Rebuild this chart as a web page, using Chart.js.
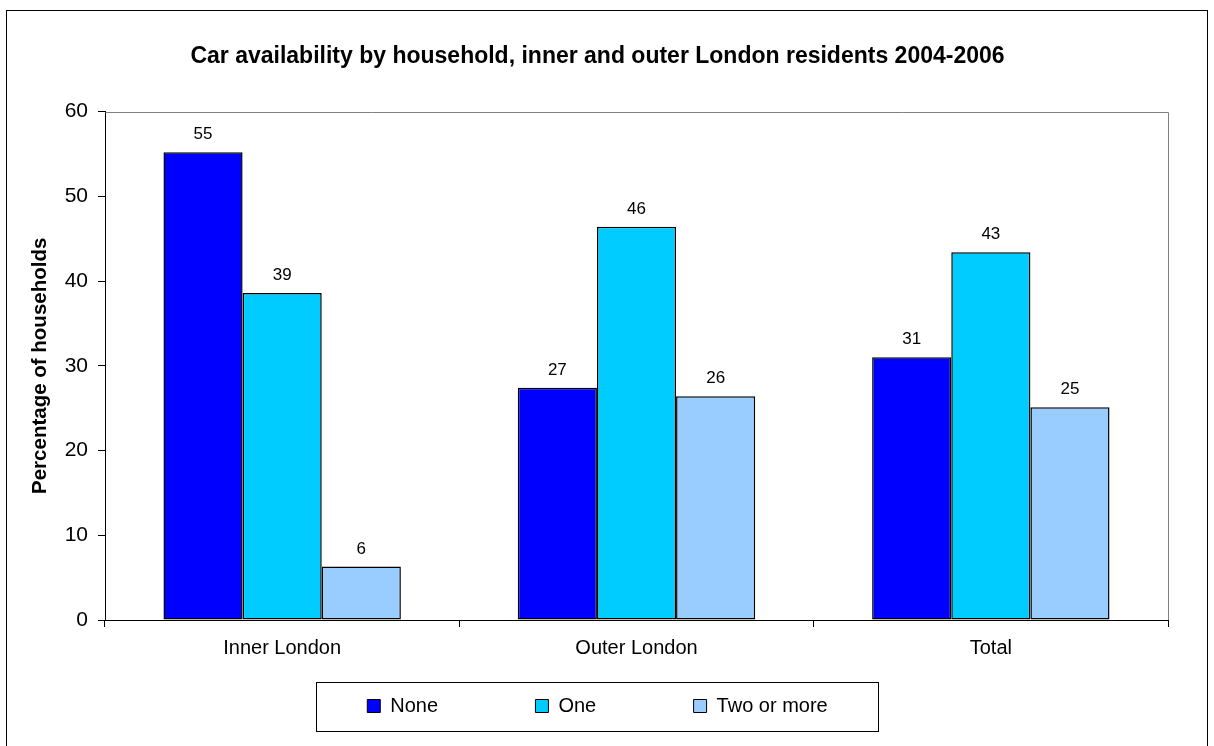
<!DOCTYPE html>
<html>
<head>
<meta charset="utf-8">
<script src="https://cdn.jsdelivr.net/npm/chart.js@4/dist/chart.umd.min.js"></script>
<style>
  html, body { margin: 0; padding: 0; background: #ffffff; }
  #wrap { position: relative; width: 1214px; height: 746px; }
</style>
</head>
<body>
<div id="wrap"><canvas id="c" width="1214" height="746"></canvas></div>
<script>
const categories = ['Inner London', 'Outer London', 'Total'];
const seriesNames = ['None', 'One', 'Two or more'];
const noneValues = [55.2, 27.4, 31.0];
const oneValues = [38.6, 46.4, 43.4];
const twoOrMoreValues = [6.3, 26.4, 25.1];
const yTicks = [0, 10, 20, 30, 40, 50, 60];
const chartTitle = 'Car availability by household, inner and outer London residents 2004-2006';
const yTitle = 'Percentage of households';

const FONT = '"Liberation Sans", Arial, sans-serif';
const PAD_LEFT = 27;

const framePlugin = {
  id: 'frame',
  beforeDraw(chart) {
    const ctx = chart.ctx;
    ctx.save();
    ctx.fillStyle = '#ffffff';
    ctx.fillRect(0, 0, chart.width, chart.height);
    ctx.strokeStyle = '#000000';
    ctx.lineWidth = 1;
    ctx.strokeRect(6.5, 10.5, 1201, 800);
    ctx.restore();
  },
  afterDraw(chart) {
    const ctx = chart.ctx;
    const a = chart.chartArea;
    ctx.save();
    ctx.strokeStyle = '#808080';
    ctx.lineWidth = 1;
    ctx.beginPath();
    ctx.moveTo(Math.round(a.left) + 0.5, Math.round(a.top) + 0.5);
    ctx.lineTo(Math.round(a.right) + 0.5, Math.round(a.top) + 0.5);
    ctx.lineTo(Math.round(a.right) + 0.5, Math.round(a.bottom));
    ctx.stroke();
    ctx.strokeStyle = '#000000';
    ctx.strokeRect(316.5, 682.5, 562, 49);
    ctx.fillStyle = '#000000';
    ctx.font = '17px ' + FONT;
    ctx.textAlign = 'center';
    ctx.textBaseline = 'alphabetic';
    chart.data.datasets.forEach((ds, di) => {
      const meta = chart.getDatasetMeta(di);
      meta.data.forEach((bar, i) => {
        ctx.fillText(String(Math.round(ds.data[i])), bar.x, bar.y - 13);
      });
    });
    ctx.restore();
  }
};

const colors = ['#0000FF', '#00CCFF', '#99CCFF'];
const seriesData = [noneValues, oneValues, twoOrMoreValues];

new Chart(document.getElementById('c'), {
  type: 'bar',
  data: {
    labels: categories,
    datasets: seriesNames.map((name, i) => ({
      label: name,
      data: seriesData[i],
      backgroundColor: colors[i],
      borderColor: '#000000',
      borderWidth: 1.5,
      borderSkipped: false,
      categoryPercentage: 0.67,
      barPercentage: 1.0
    }))
  },
  options: {
    responsive: false,
    animation: false,
    devicePixelRatio: 1,
    layout: { padding: { left: PAD_LEFT, right: 46, top: 10, bottom: 20 } },
    plugins: {
      title: {
        display: true,
        text: chartTitle,
        color: '#000000',
        font: { family: FONT, size: 23, weight: 'bold' },
        padding: { top: 33, bottom: 41 }
      },
      legend: {
        position: 'bottom',
        labels: {
          color: '#000000',
          font: { family: FONT, size: 20 },
          boxWidth: 13,
          boxHeight: 13,
          padding: 14,
          generateLabels(chart) {
            return chart.data.datasets.map((ds, i) => ({
              text: ds.label + (i < chart.data.datasets.length - 1 ? ' '.repeat(15) : ''),
              fillStyle: ds.backgroundColor,
              strokeStyle: '#000000',
              lineWidth: 1,
              hidden: false,
              datasetIndex: i,
              fontColor: '#000000'
            }));
          }
        }
      },
      tooltip: { enabled: false }
    },
    scales: {
      x: {
        offset: true,
        grid: { display: true, drawOnChartArea: false, drawTicks: true, tickLength: 7, color: '#000000' },
        border: { display: true, color: '#000000', width: 1 },
        ticks: { color: '#000000', font: { family: FONT, size: 20 }, padding: 9, maxRotation: 0 },
        afterFit(scale) { scale.height = 62; }
      },
      y: {
        min: 0,
        max: 60,
        grid: { display: true, drawOnChartArea: false, drawTicks: true, tickLength: 7, color: '#000000' },
        border: { display: true, color: '#000000', width: 1 },
        afterBuildTicks(scale) { scale.ticks = yTicks.map(v => ({ value: v })); },
        ticks: { color: '#000000', font: { family: FONT, size: 21 }, padding: 10 },
        title: {
          display: true,
          text: yTitle,
          color: '#000000',
          font: { family: FONT, size: 20.5, weight: 'bold' },
          padding: { top: 1, bottom: 0 }
        },
        afterFit(scale) { scale.width = 105 - PAD_LEFT; }
      }
    }
  },
  plugins: [framePlugin]
});
</script>
</body>
</html>
